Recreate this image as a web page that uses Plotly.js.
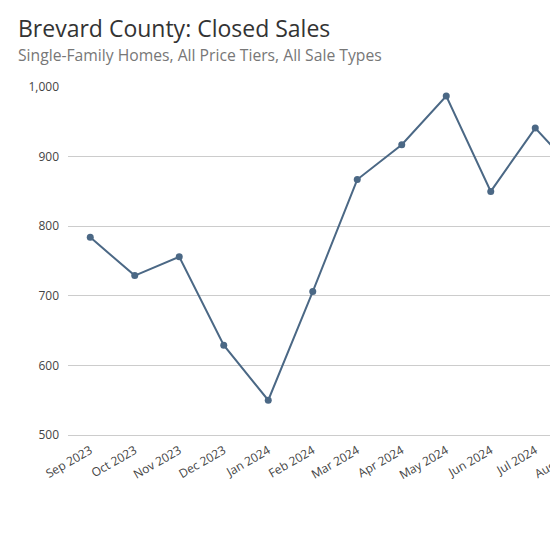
<!DOCTYPE html>
<html>
<head>
<meta charset="utf-8">
<script src="https://cdn.plot.ly/plotly-3.0.1.min.js"></script>
<style>
html,body{margin:0;padding:0;overflow:hidden;background:#fff;}
#chart{width:620px;height:550px;}
</style>
</head>
<body>
<div id="chart"></div>
<script>
const months = ["Sep 2023","Oct 2023","Nov 2023","Dec 2023","Jan 2024","Feb 2024","Mar 2024","Apr 2024","May 2024","Jun 2024","Jul 2024","Aug 2024"];
const closedSales = [784, 729, 756, 629, 550, 706, 867, 917, 987, 850, 941, 872];
const yTicks = [500, 600, 700, 800, 900, 1000];

const FONT = "'Open Sans', 'Noto Sans', sans-serif";
const trace = {
  x: months,
  y: closedSales,
  type: 'scatter',
  mode: 'lines+markers',
  line: {color: '#4b6885', width: 2},
  marker: {color: '#4b6885', size: 7},
  cliponaxis: false,
  hoverinfo: 'x+y'
};
const layout = {
  width: 620, height: 550,
  margin: {l: 68, r: 18, t: 87, b: 115},
  paper_bgcolor: '#fff', plot_bgcolor: '#fff',
  font: {family: FONT, color: '#444', size: 12},
  showlegend: false,
  xaxis: {
    type: 'category',
    range: [-0.5, months.length - 0.5],
    tickangle: -30,
    showgrid: false,
    showline: true, linecolor: '#cccccc', linewidth: 1,
    ticks: '', ticklabelstandoff: 3,
    tickfont: {size: 12, color: '#444'},
    fixedrange: true
  },
  yaxis: {
    range: [500, 1000],
    tickvals: yTicks,
    tickformat: ',',
    showgrid: true, gridcolor: '#cccccc', gridwidth: 1,
    zeroline: false, showline: false,
    ticks: '', ticklabelstandoff: 8,
    tickfont: {size: 12, color: '#444'},
    fixedrange: true
  },
  annotations: [
    {text: 'Brevard County: Closed Sales', xref: 'paper', yref: 'paper', x: -0.0975, y: 1.170,
     xanchor: 'left', yanchor: 'middle', showarrow: false, font: {family: FONT, size: 23, color: '#333'}},
    {text: 'Single-Family Homes, All Price Tiers, All Sale Types', xref: 'paper', yref: 'paper', x: -0.0975, y: 1.091,
     xanchor: 'left', yanchor: 'middle', showarrow: false, font: {family: FONT, size: 15.7, color: '#777'}}
  ]
};
Plotly.newPlot('chart', [trace], layout, {displayModeBar: false, staticPlot: true});
</script>
</body>
</html>
